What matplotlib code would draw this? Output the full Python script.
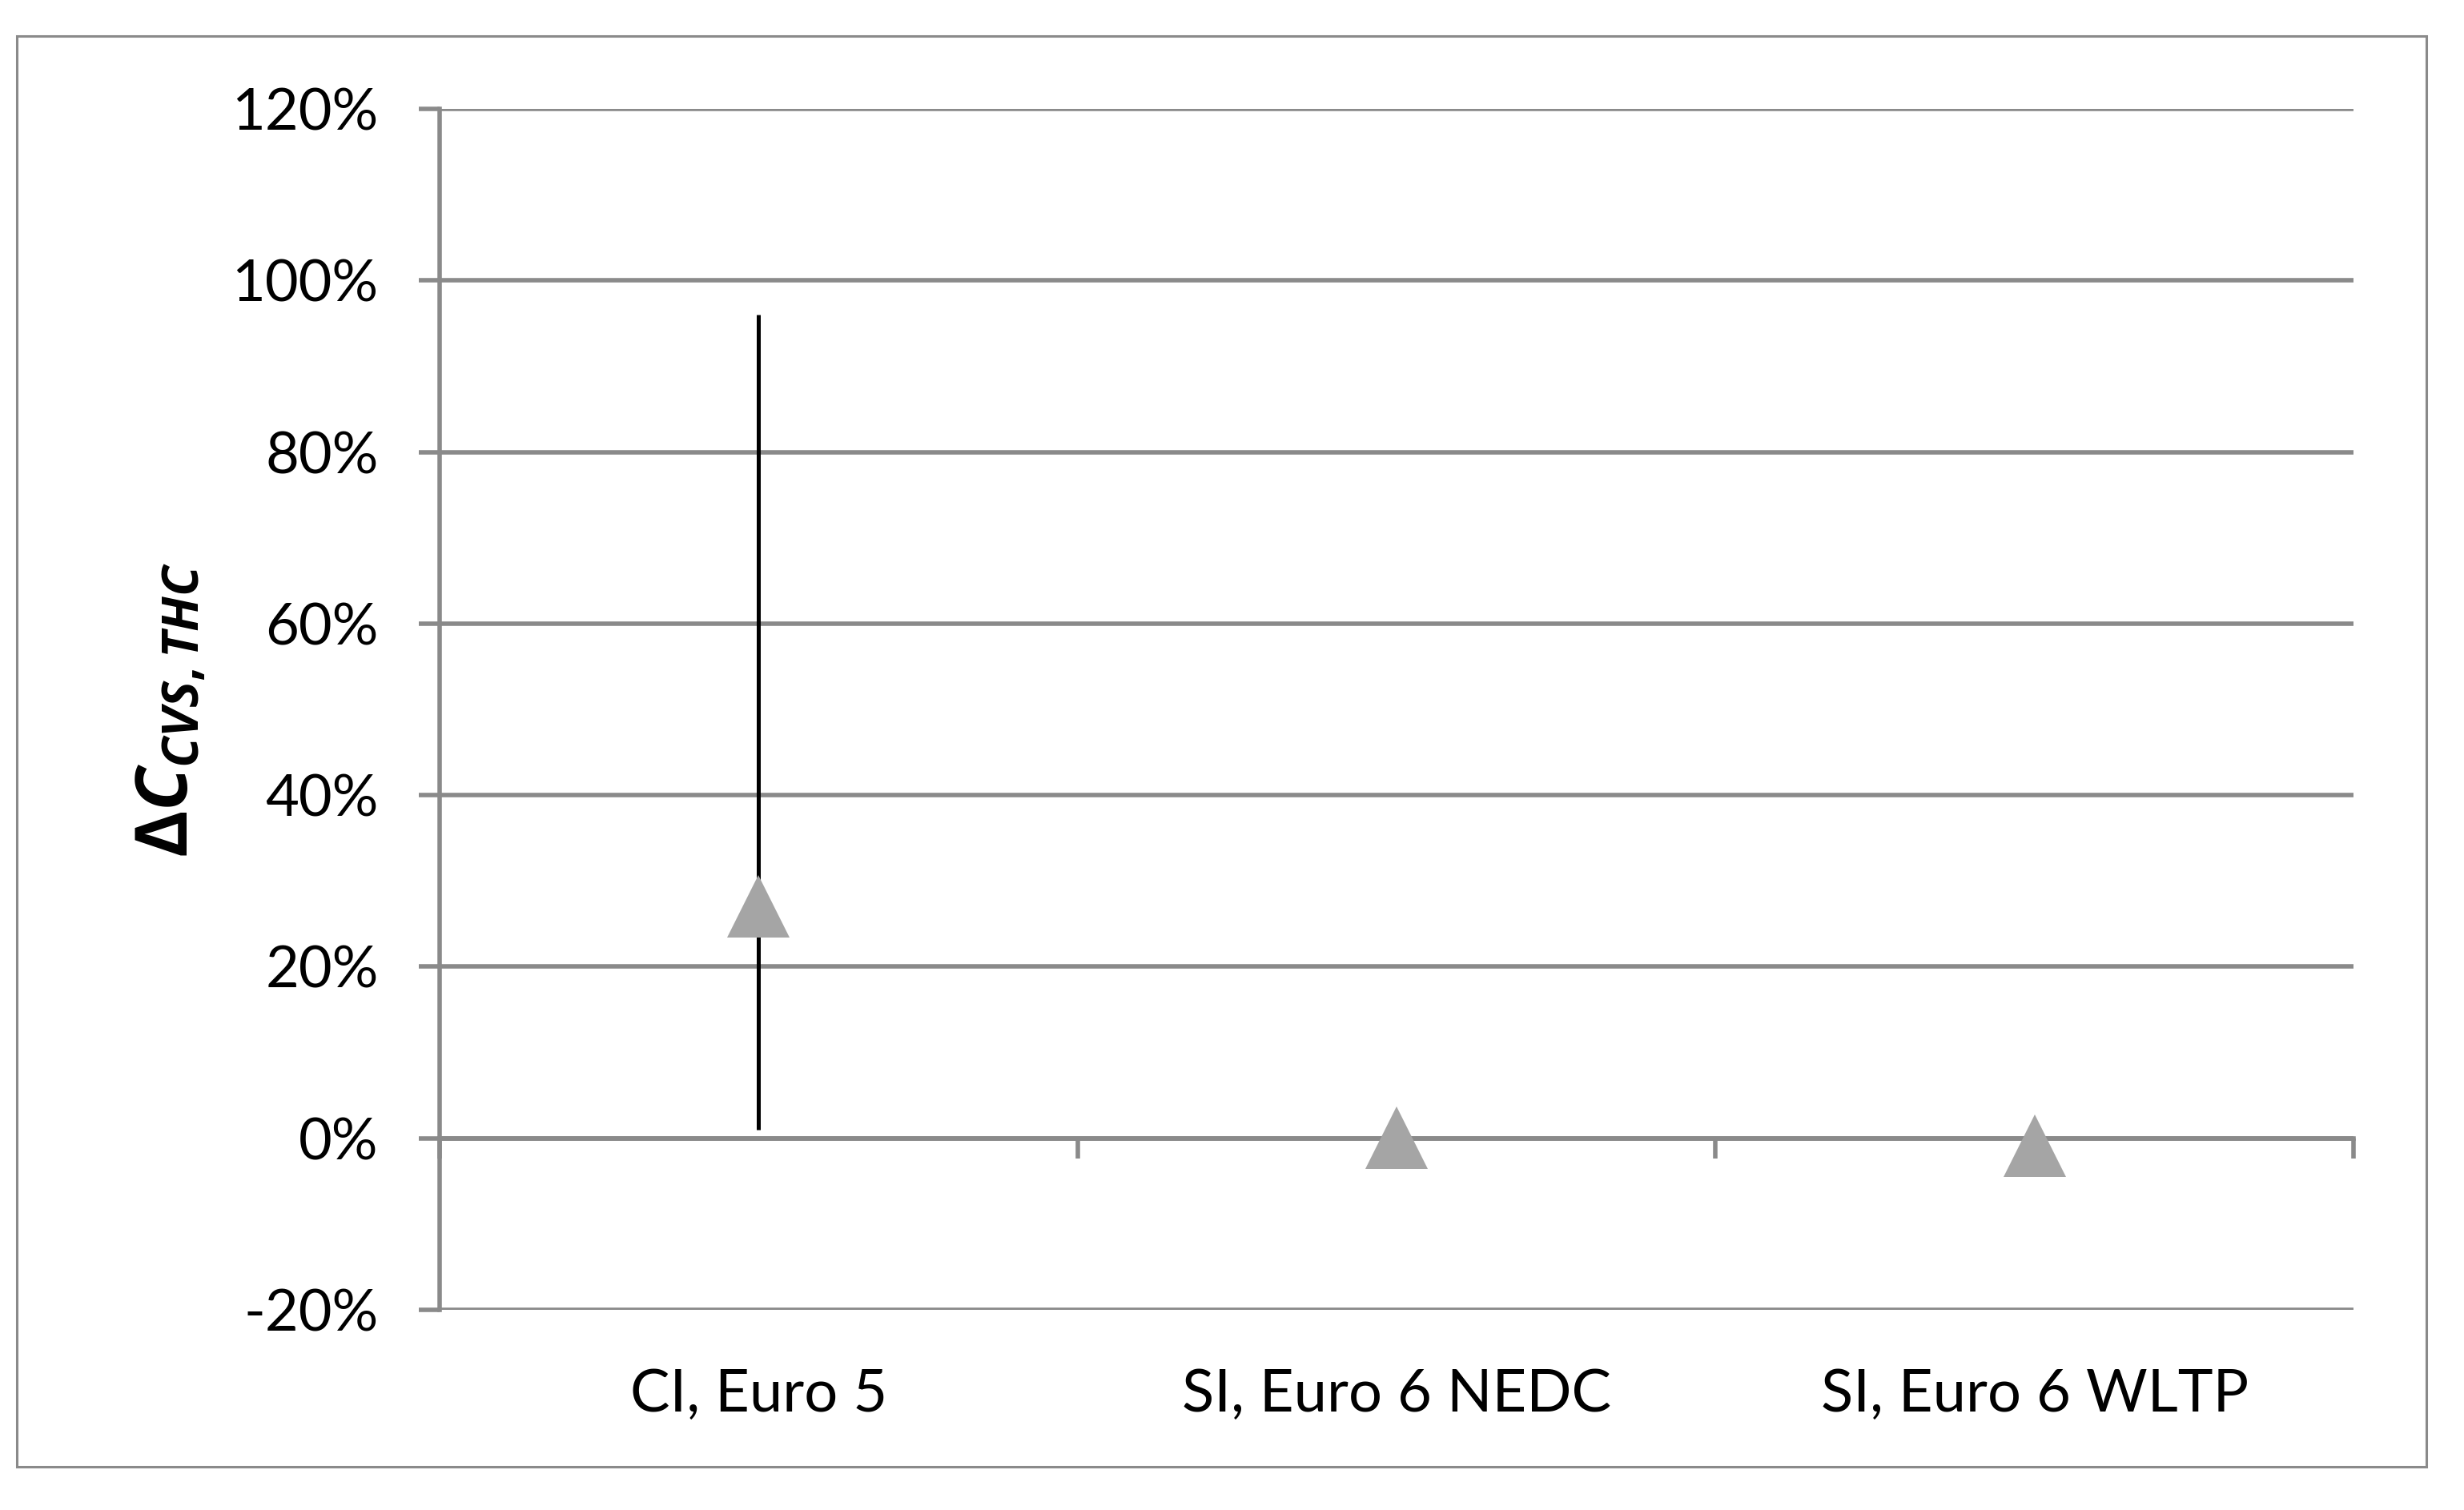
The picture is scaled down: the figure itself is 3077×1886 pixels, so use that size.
import matplotlib
matplotlib.use("Agg")
import matplotlib.pyplot as plt
from matplotlib.ticker import FuncFormatter
from matplotlib.patches import Rectangle
import numpy as np

categories = ['CI, Euro 5', 'SI, Euro 6 NEDC', 'SI, Euro 6 WLTP']
values = [0.27, 0.001, -0.009]
err_low = [0.01, np.nan, np.nan]
err_high = [0.96, np.nan, np.nan]
yticks = [-0.2, 0.0, 0.2, 0.4, 0.6, 0.8, 1.0, 1.2]

W, H, DPI = 3077, 1886, 200
plt.rcParams['font.family'] = ['Lato', 'DejaVu Sans']
plt.rcParams['mathtext.fontset'] = 'custom'
plt.rcParams['mathtext.it'] = 'Open Sans:italic:bold'
plt.rcParams['mathtext.rm'] = 'Open Sans:bold'
plt.rcParams['mathtext.bf'] = 'Open Sans:bold'

GRID = '#8a8a8a'
fig = plt.figure(figsize=(W / DPI, H / DPI), dpi=DPI)
fig.patch.set_facecolor('white')
# outer border
fig.patches.append(Rectangle((21 / W, 1 - 1832 / H), (3030 - 21) / W, (1832 - 45) / H,
                             transform=fig.transFigure, fill=False, edgecolor=GRID,
                             linewidth=1.1, zorder=0))

ax = fig.add_axes([549 / W, 1 - 1636 / H, (2939 - 549) / W, (1636 - 136) / H])
x = np.arange(len(categories)) + 0.5
ax.set_xlim(0, len(categories))
ax.set_ylim(yticks[0], yticks[-1])

ax.set_yticks(yticks)
ax.yaxis.set_major_formatter(FuncFormatter(lambda v, p: f"{v*100:.0f}%"))
ax.tick_params(axis='y', direction='out', length=9.5, width=2.0, color=GRID,
               labelsize=26, pad=18, labelcolor='black')
ax.grid(axis='y', color=GRID, linewidth=2.0, zorder=0)
ax.set_axisbelow(True)

for s in ['top', 'right']:
    ax.spines[s].set_visible(False)
ax.spines['left'].set_color(GRID)
ax.spines['left'].set_linewidth(2.0)
ax.spines['bottom'].set_position(('data', 0))
ax.spines['bottom'].set_color(GRID)
ax.spines['bottom'].set_linewidth(2.0)
ax.set_xticks(np.arange(len(categories) + 1))
ax.set_xticklabels([])
ax.tick_params(axis='x', direction='out', length=9, width=2.0, color=GRID)

for xi, c in zip(x, categories):
    ax.annotate(c, xy=(xi, 0), xycoords=('data', 'axes fraction'),
                xytext=(0, -38.5), textcoords='offset points',
                ha='center', va='center', fontsize=26.7)

ax.vlines(x, err_low, err_high, colors='black', linewidth=1.8, zorder=3)
ax.plot(x, values, linestyle='none', marker='^', markersize=28.4,
        color='#a5a5a5', markeredgewidth=0, zorder=4, clip_on=False)

ax.set_ylabel(r'$\Delta C_{CVS,THC}$', fontsize=32, labelpad=11)

fig.savefig('out.png', dpi=DPI)
